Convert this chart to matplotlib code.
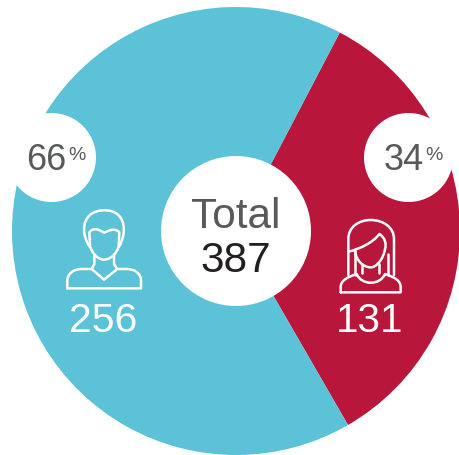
import matplotlib
matplotlib.use("Agg")
import matplotlib.pyplot as plt
from matplotlib.patches import Circle, PathPatch
from matplotlib.path import Path

plt.rcParams['font.family'] = ['Liberation Sans', 'DejaVu Sans']

# data
labels = ['Female', 'Male']
counts = [131, 256]
shares = [34, 66]
total = 387
colors = ['#b8173b', '#5bc2d7']

W, H = 459, 456
GREY = '#58595b'


def flip(y):
    return H - y


def icon(ax, segs, ox, oy):
    # segs are lists of path commands in 3x zoomed pixel coords
    for seg in segs:
        verts, codes = [], []
        for cmd, pts in seg:
            pts = [(ox + x / 3, flip(oy + y / 3)) for x, y in pts]
            verts += pts
            codes += {'M': [Path.MOVETO], 'L': [Path.LINETO],
                      'C': [Path.CURVE4] * 3}[cmd]
        ax.add_patch(PathPatch(Path(verts, codes), fc='none', ec='white', lw=1.8,
                               capstyle='round', joinstyle='round', zorder=4))


male = [
    [('M', [(148, 172)]), ('C', [(128, 140), (125, 100), (150, 78)]),
     ('C', [(170, 60), (215, 58), (235, 78)]), ('C', [(258, 100), (255, 140), (238, 172)])],
    [('M', [(150, 172)]), ('L', [(148, 130)]), ('C', [(160, 115), (175, 120), (192, 131)]),
     ('C', [(207, 125), (222, 115), (238, 130)]), ('L', [(236, 172)]),
     ('C', [(230, 195), (210, 212), (192, 212)]), ('C', [(175, 212), (157, 195), (150, 172)])],
    [('M', [(163, 197)]), ('L', [(163, 225)]), ('L', [(155, 240)])],
    [('M', [(222, 197)]), ('L', [(222, 225)]), ('L', [(232, 240)])],
    [('M', [(82, 298)]), ('L', [(82, 275)]), ('C', [(82, 255), (100, 240), (125, 240)]),
     ('L', [(155, 240)]), ('L', [(192, 272)]), ('L', [(232, 240)]), ('L', [(262, 240)]),
     ('C', [(285, 240), (303, 255), (303, 275)]), ('L', [(303, 298)]), ('L', [(82, 298)])],
]

female = [
    [('M', [(85, 228)]), ('L', [(85, 120)]), ('C', [(85, 85), (115, 63), (152, 63)]),
     ('C', [(190, 63), (222, 85), (222, 120)]), ('L', [(222, 228)])],
    [('M', [(85, 158)]), ('C', [(120, 150), (160, 130), (178, 105)]),
     ('C', [(195, 115), (200, 135), (195, 150)]), ('C', [(190, 180), (170, 205), (152, 205)]),
     ('C', [(130, 205), (108, 185), (105, 155)])],
    [('M', [(105, 155)]), ('L', [(105, 228)])],
    [('M', [(205, 165)]), ('L', [(205, 228)])],
    [('M', [(127, 195)]), ('L', [(127, 222)])],
    [('M', [(178, 195)]), ('L', [(178, 222)])],
    [('M', [(62, 280)]), ('L', [(62, 265)]), ('C', [(62, 245), (80, 235), (110, 225)]),
     ('C', [(125, 260), (180, 260), (195, 225)]), ('C', [(225, 235), (242, 245), (242, 265)]),
     ('L', [(242, 280)]), ('L', [(62, 280)])],
]

fig = plt.figure(figsize=(W / 100, H / 100), dpi=100)
ax = fig.add_axes([0, 0, 1, 1])

ax.pie(shares, colors=colors, startangle=62.4, counterclock=False,
       center=(236, flip(232)), radius=224, frame=True)
ax.set_xlim(0, W)
ax.set_ylim(0, H)
ax.set_aspect('equal')
ax.axis('off')

# white discs
for cx, cy, r in [(236, 232, 75), (51.5, 158.5, 44.5), (408.5, 158.5, 44.5)]:
    ax.add_patch(Circle((cx, flip(cy)), r, fc='white', ec='none', zorder=3))

# center text
ax.text(236, flip(217), 'Total', fontsize=30.5, color=GREY, ha='center', va='center', zorder=5)
ax.text(236, flip(260.5), str(total), fontsize=30.5, color='#231f20', ha='center', va='center', zorder=5)

# counts
ax.text(103.5, flip(320.5), str(counts[1]), fontsize=29.5, color='white', ha='center', va='center', zorder=5)
ax.text(369.5, flip(320.5), str(counts[0]), fontsize=29, color='white', ha='center', va='center', zorder=5)

# percent labels
ax.text(66.5, flip(160), str(shares[1]), fontsize=26, color=GREY, ha='right', va='center', zorder=5)
ax.text(68, flip(155), '%', fontsize=14, color=GREY, ha='left', va='center', zorder=5)
ax.text(424, flip(160), str(shares[0]), fontsize=26, color=GREY, ha='right', va='center', zorder=5)
ax.text(425, flip(155), '%', fontsize=14, color=GREY, ha='left', va='center', zorder=5)

icon(ax, male, 40, 190)
icon(ax, female, 320, 200)

fig.savefig('out.png', dpi=100)
